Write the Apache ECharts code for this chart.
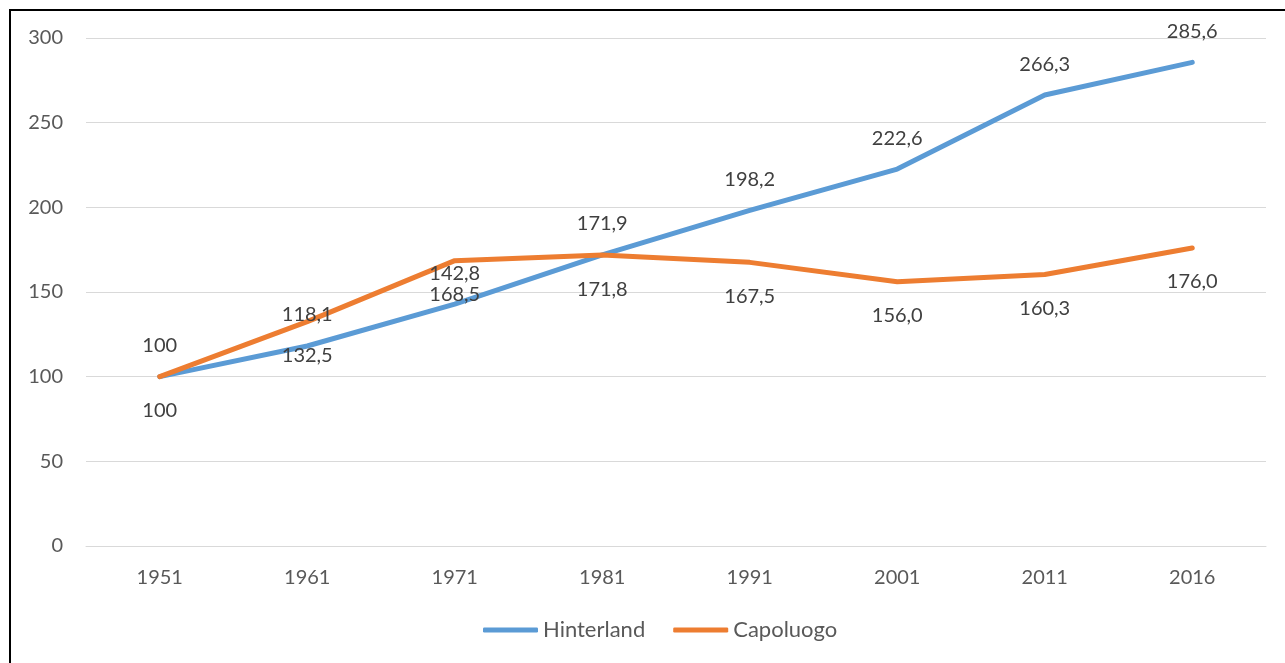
<!DOCTYPE html>
<html>
<head>
<meta charset="utf-8">
<script src="https://cdn.jsdelivr.net/npm/echarts@6/dist/echarts.min.js"></script>
<style>
  html, body { margin: 0; padding: 0; background: #fff; }
  #chart { width: 1285px; height: 663px; }
</style>
</head>
<body>
<div id="chart"></div>
<script>
const years = ['1951', '1961', '1971', '1981', '1991', '2001', '2011', '2016']
const hinterland = [100, 118.1, 142.8, 171.9, 198.2, 222.6, 266.3, 285.6]
const capoluogo = [100, 132.5, 168.5, 171.8, 167.5, 156.0, 160.3, 176.0]

const font = 'Lato, "Open Sans", sans-serif'

function fmt(p) {
  if (p.dataIndex === 0) return String(p.value)
  return p.value.toFixed(1).replace('.', ',')
}

const chart = echarts.init(document.getElementById('chart'))
chart.setOption({
  animation: false,
  textStyle: { fontFamily: font },
  graphic: [{
    type: 'rect',
    shape: { x: 10, y: 10, width: 1400, height: 800 },
    style: { fill: 'none', stroke: '#000', lineWidth: 2 },
    silent: true
  }],
  grid: { left: 86, right: 19, top: 38, bottom: 117 },
  legend: {
    bottom: 17,
    left: 478,
    icon: 'roundRect',
    itemWidth: 55,
    itemHeight: 5,
    itemGap: 28,
    textStyle: { color: '#595959', fontSize: 22, fontFamily: font },
    data: ['Hinterland', 'Capoluogo']
  },
  xAxis: {
    type: 'category',
    data: years,
    boundaryGap: true,
    axisLine: { lineStyle: { color: '#d9d9d9', width: 1 } },
    axisTick: { show: false },
    axisLabel: { color: '#595959', fontSize: 20, margin: 22, fontFamily: font }
  },
  yAxis: {
    type: 'value',
    min: 0,
    max: 300,
    interval: 50,
    axisLine: { show: false },
    axisTick: { show: false },
    splitLine: { lineStyle: { color: '#d9d9d9', width: 1 } },
    axisLabel: { color: '#595959', fontSize: 20, margin: 23, fontFamily: font }
  },
  series: [
    {
      name: 'Hinterland',
      type: 'line',
      data: hinterland,
      symbol: 'circle',
      symbolSize: 0,
      lineStyle: { color: '#5b9bd5', width: 5, cap: 'round', join: 'round' },
      itemStyle: { color: '#5b9bd5' },
      label: {
        show: true,
        position: 'top',
        distance: 21,
        color: '#404040',
        fontSize: 20,
        fontFamily: font,
        formatter: fmt
      }
    },
    {
      name: 'Capoluogo',
      type: 'line',
      data: capoluogo,
      symbol: 'circle',
      symbolSize: 0,
      lineStyle: { color: '#ed7d31', width: 5, cap: 'round', join: 'round' },
      itemStyle: { color: '#ed7d31' },
      label: {
        show: true,
        position: 'bottom',
        distance: 24,
        color: '#404040',
        fontSize: 20,
        fontFamily: font,
        formatter: fmt
      }
    }
  ]
})
</script>
</body>
</html>
